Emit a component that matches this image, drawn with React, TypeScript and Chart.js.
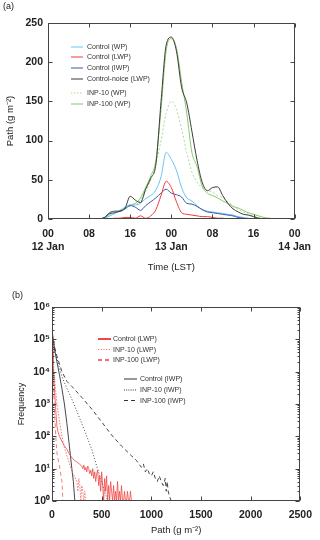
import React, { useEffect, useRef } from "react";
import { Chart, registerables } from "chart.js";
Chart.register(...registerables);
Chart.defaults.font.family = "'Liberation Sans', Arial, sans-serif";

// ---------- Panel (a) data ----------
const hours = [10, 11, 12, 13, 14, 15, 16, 17, 18, 19, 20, 21, 22, 23, 24, 25, 26, 27, 28, 29, 30, 31, 32, 33, 34, 35, 36, 37, 38, 39, 40, 41, 42, 43, 44];
const controlWP = [0, 1, 4, 7, 11, 15, 18, 18, 20, 26, 30, 37, 54, 85, 76, 62, 40, 27, 23, 17, 12, 10, 9, 8, 7, 6, 5, 3, 2, 1, 0, 0, 0, 0, 0];
const controlLWP = [0, 0, 0, 1, 1, 2, 2, 1, 4, 1, 4, 12, 30, 48, 40, 22, 8, 6, 5, 4, 3, 3, 2, 1, 1, 0, 0, 0, 0, 0, 0, 0, 0, 0, 0];
const controlIWP = [0, 2, 7, 8, 10, 13, 17, 15, 11, 17, 22, 27, 33, 38, 33, 31, 28, 20, 19, 16, 12, 9, 8, 7, 6, 5, 4, 2, 1, 0, 0, 0, 0, 0, 0];
const noiceLWP = [0, 2, 8, 10, 10, 14, 29, 24, 21, 38, 52, 70, 150, 222, 232, 214, 168, 148, 112, 75, 47, 36, 40, 41, 30, 20, 13, 9, 6, 5, 3, 1, 0, 0, 0];
const inp10WP = [0, 1, 6, 8, 10, 14, 17, 18, 24, 35, 50, 70, 100, 135, 150, 140, 115, 85, 60, 47, 40, 37, 34, 30, 27, 22, 17, 12, 9, 6, 4, 2, 1, 0, 0];
const inp100WP = [0, 1, 6, 8, 10, 14, 18, 20, 27, 40, 55, 75, 140, 215, 230, 218, 175, 135, 85, 67, 42, 33, 30, 27, 23, 20, 16, 14, 11, 8, 6, 4, 2, 1, 0];
const timeTicks = [0, 8, 16, 24, 32, 40, 48];
const timeTickLabels: (string | string[])[] = [["00", "12 Jan"], "08", "16", ["00", "13 Jan"], "08", "16", ["00", "14 Jan"]];
const pathTicks = [0, 50, 100, 150, 200, 250];
const legendLabelsA = ["Control (WP)", "Control (LWP)", "Control (IWP)", "Control-noice (LWP)", "INP-10 (WP)", "INP-100 (WP)"];

// ---------- Panel (b) data ----------
const lwpControlX = [0, 10, 20, 30, 40, 50, 60, 75, 100, 125, 150, 175, 200, 225, 250, 275, 300,
  310, 320, 330, 340, 350, 360, 370, 380, 390, 400, 410, 420, 430, 440, 450, 460, 470, 480, 490, 500,
  510, 520, 530, 540, 550, 560, 570, 580, 590, 600, 610, 620, 630, 640, 650, 660, 670, 680, 690, 700,
  710, 720, 730, 740, 750, 760, 770, 780, 790, 800];
const lwpControlF = [1e5, 2e4, 5e3, 1.6e3, 500, 200, 140, 100, 70, 50, 40, 28, 22, 18, 16, 14, 12,
  10, 13, 9, 11, 8, 12, 10, 7, 9, 6, 10, 5, 8, 4, 7, 9, 3, 6, 2, 8,
  3, 1, 5, 2, 6, 1, 3, 1, 4, 2, 1, 3, 1, 2, 1, 4, 1, 2, 1, 3,
  1, 1, 2, 1, 1, 2, 1, 1, 2, 1];
const lwpInp10X = [0, 10, 20, 35, 50, 75, 100, 125, 150, 175, 200, 225, 250, 260, 270, 280, 290, 300, 310, 320, 330, 340];
const lwpInp10F = [1e5, 3e4, 1e4, 3e3, 1e3, 300, 100, 45, 25, 15, 8, 6, 4, 2, 5, 3, 1, 3, 2, 1, 2, 1];
const lwpInp100X = [0, 10, 20, 30, 40, 50, 60, 70, 80, 90, 100, 105, 110];
const lwpInp100F = [1e5, 1e4, 1.5e3, 300, 80, 30, 20, 15, 10, 6, 4, 2, 1];
const iwpControlX = [0, 25, 50, 75, 100, 125, 150, 175, 200, 215, 230];
const iwpControlF = [2e5, 5e4, 2e4, 8e3, 3e3, 1e3, 250, 50, 10, 4, 1];
const iwpInp10X = [0, 25, 50, 100, 150, 200, 250, 300, 350, 400, 450, 500, 530, 560];
const iwpInp10F = [1.5e5, 5e4, 2.5e4, 7e3, 3e3, 1.4e3, 600, 250, 100, 40, 12, 4, 2, 1];
const iwpInp100X = [0, 25, 50, 100, 150, 200, 300, 400, 500, 600, 700, 800, 850, 900, 920, 940, 960, 980, 1000, 1020, 1040, 1060, 1080, 1100, 1120, 1140, 1150, 1160, 1170, 1180, 1200];
const iwpInp100F = [1.5e5, 6e4, 3e4, 1e4, 5e3, 3.5e3, 1.6e3, 700, 280, 110, 50, 25, 18, 11, 14, 8, 10, 7, 6, 8, 5, 4, 6, 4, 3, 5, 2, 4, 2, 1.5, 1];
const pathXTicks = [0, 500, 1000, 1500, 2000, 2500];
const freqTicks = [1, 10, 100, 1000, 10000, 100000, 1000000];
const legendLabelsB = ["Control (LWP)", "INP-10 (LWP)", "INP-100 (LWP)", "Control (IWP)", "INP-10 (IWP)", "INP-100 (IWP)"];

const SUP = ["⁰", "¹", "²", "³", "⁴", "⁵", "⁶"];

const C = {
  lightBlue: "#62c6f2",
  red: "#ee3b3b",
  darkBlue: "#3d56a6",
  black: "#3a3a3a",
  greenDot: "#a9dc8f",
  green: "#86c96a",
  redB: "#f04848",
  redBDot: "#f06a6a",
  redBDash: "#f27070",
  blackB: "#333333",
};

const FONT = "'Liberation Sans', Arial, sans-serif";

const framePlugin = {
  id: "frame",
  afterDatasetsDraw(chart: any, _args: any, opts: any) {
    const { ctx, chartArea: ca } = chart;
    const xs = chart.scales.x;
    const ys = chart.scales.y;
    ctx.save();
    ctx.strokeStyle = "#444";
    ctx.lineWidth = 1;
    ctx.setLineDash([]);
    const l = Math.round(ca.left) + 0.5, r = Math.round(ca.right) - 0.5;
    const t = Math.round(ca.top) + 0.5, b = Math.round(ca.bottom) - 0.5;
    ctx.strokeRect(l, t, r - l, b - t);
    ctx.beginPath();
    const L = 4;
    for (const tk of xs.ticks) {
      const px = Math.round(xs.getPixelForValue(tk.value)) + 0.5;
      ctx.moveTo(px, b); ctx.lineTo(px, b - L);
      ctx.moveTo(px, t); ctx.lineTo(px, t + L);
    }
    for (const tk of ys.ticks) {
      const py = Math.round(ys.getPixelForValue(tk.value)) + 0.5;
      ctx.moveTo(l, py); ctx.lineTo(l + L, py);
      ctx.moveTo(r, py); ctx.lineTo(r - L, py);
    }
    if (opts.minorY) {
      for (let d = 0; d < 6; d++) {
        for (let k = 2; k <= 9; k++) {
          const py = Math.round(ys.getPixelForValue(k * Math.pow(10, d))) + 0.5;
          ctx.moveTo(l, py); ctx.lineTo(l + 2, py);
          ctx.moveTo(r, py); ctx.lineTo(r - 2, py);
        }
      }
    }
    ctx.stroke();
    // legend
    const items = opts.legend || [];
    ctx.font = `7px ${FONT}`;
    ctx.textBaseline = "middle";
    ctx.textAlign = "left";
    for (const it of items) {
      ctx.beginPath();
      ctx.strokeStyle = it.color;
      ctx.lineWidth = it.width || 1;
      ctx.setLineDash(it.dash || []);
      ctx.moveTo(it.x1, it.y);
      ctx.lineTo(it.x2, it.y);
      ctx.stroke();
      ctx.setLineDash([]);
      ctx.fillStyle = "#333";
      ctx.fillText(it.label, it.tx, it.y + 0.5);
    }
    ctx.restore();
  },
};

function pts(xs: number[], ys: number[]) {
  return xs.map((x, i) => ({ x, y: ys[i] }));
}

function makeConfigA(): any {
  const series = [
    { data: controlWP, color: C.lightBlue, dash: [], order: 3 },
    { data: controlLWP, color: C.red, dash: [], order: 1 },
    { data: controlIWP, color: C.darkBlue, dash: [], order: 2 },
    { data: noiceLWP, color: C.black, dash: [], order: 0 },
    { data: inp10WP, color: C.greenDot, dash: [2, 2], order: 5 },
    { data: inp100WP, color: C.green, dash: [], order: 4 },
  ];
  const rows = [47, 57, 68, 79, 93, 104];
  return {
    type: "line",
    data: {
      datasets: series.map((s, i) => ({
        label: legendLabelsA[i],
        data: pts(hours, s.data),
        borderColor: s.color,
        borderDash: s.dash,
        borderWidth: 1,
        pointRadius: 0,
        fill: false,
        order: s.order,
        cubicInterpolationMode: "monotone",
      })),
    },
    options: {
      animation: false,
      responsive: true,
      maintainAspectRatio: false,
      layout: { padding: { top: 23, right: 21, left: 0, bottom: 0 } },
      plugins: {
        legend: { display: false },
        tooltip: { enabled: false },
        frame: {
          legend: series.map((s, i) => ({
            label: legendLabelsA[i], color: s.color, dash: s.dash.length ? [1.5, 1.5] : [],
            x1: 71, x2: 83, tx: 87, y: rows[i], width: 1,
          })),
        },
      },
      scales: {
        x: {
          type: "linear", min: 0, max: 48,
          afterBuildTicks: (s: any) => { s.ticks = timeTicks.map((v) => ({ value: v })); },
          afterFit: (s: any) => { s.height = 59; },
          grid: { display: false, drawTicks: false },
          border: { display: false },
          ticks: {
            padding: 9, color: "#222", maxRotation: 0, autoSkip: false,
            font: { size: 10.5, weight: "bold" },
            callback: (v: number) => timeTickLabels[timeTicks.indexOf(v)],
          },
          title: { display: true, text: "Time (LST)", color: "#222", font: { size: 9.5 }, padding: { top: 0, bottom: 5 } },
        },
        y: {
          type: "linear", min: 0, max: 250,
          afterBuildTicks: (s: any) => { s.ticks = pathTicks.map((v) => ({ value: v })); },
          afterFit: (s: any) => { s.width = 48; },
          grid: { display: false, drawTicks: false },
          border: { display: false },
          ticks: { padding: 5, color: "#222", font: { size: 10.5, weight: "bold" }, callback: (v: number) => String(v) },
          title: { display: true, text: "Path (g m⁻²)", color: "#222", font: { size: 9.5 }, padding: { top: 5, bottom: 0 } },
        },
      },
    },
    plugins: [framePlugin],
  };
}

function makeConfigB(): any {
  const series = [
    { x: lwpControlX, f: lwpControlF, color: C.redB, dash: [], ldash: [], lw: 2, bw: 0.8 },
    { x: lwpInp10X, f: lwpInp10F, color: C.redBDot, dash: [1.5, 1.5], ldash: [1.2, 1.5], lw: 1, bw: 0.9 },
    { x: lwpInp100X, f: lwpInp100F, color: C.redBDash, dash: [4, 3], ldash: [4, 3], lw: 2, bw: 0.9 },
    { x: iwpControlX, f: iwpControlF, color: C.blackB, dash: [], ldash: [], lw: 1, bw: 0.9 },
    { x: iwpInp10X, f: iwpInp10F, color: C.blackB, dash: [1, 2], ldash: [1, 1.2], lw: 1, bw: 0.9 },
    { x: iwpInp100X, f: iwpInp100F, color: C.blackB, dash: [4, 3], ldash: [4, 3], lw: 1, bw: 0.9 },
  ];
  const legendPos = [
    { x1: 98, x2: 111, tx: 113, y: 61 },
    { x1: 98, x2: 111, tx: 113, y: 71.5 },
    { x1: 98, x2: 111, tx: 113, y: 82 },
    { x1: 124, x2: 137, tx: 140, y: 101 },
    { x1: 124, x2: 137, tx: 140, y: 112 },
    { x1: 124, x2: 137, tx: 140, y: 122.5 },
  ];
  return {
    type: "line",
    data: {
      datasets: series.map((s, i) => ({
        label: legendLabelsB[i],
        data: pts(s.x, s.f),
        borderColor: s.color,
        borderDash: s.dash,
        borderWidth: s.bw,
        pointRadius: 0,
        fill: false,
        tension: 0,
      })),
    },
    options: {
      animation: false,
      responsive: true,
      maintainAspectRatio: false,
      layout: { padding: { top: 29, right: 17, left: 0, bottom: 0 } },
      plugins: {
        legend: { display: false },
        tooltip: { enabled: false },
        frame: {
          minorY: true,
          legend: series.map((s, i) => ({
            label: legendLabelsB[i], color: s.color, dash: s.ldash, width: s.lw, ...legendPos[i],
          })),
        },
      },
      scales: {
        x: {
          type: "linear", min: 0, max: 2500,
          afterBuildTicks: (s: any) => { s.ticks = pathXTicks.map((v) => ({ value: v })); },
          afterFit: (s: any) => { s.height = 39; },
          grid: { display: false, drawTicks: false },
          border: { display: false },
          ticks: {
            padding: 8, color: "#222", maxRotation: 0, autoSkip: false, font: { size: 10.5, weight: "bold" },
            callback: (v: number) => String(v),
          },
          title: { display: true, text: "Path (g m⁻²)", color: "#222", font: { size: 9.5 }, padding: { top: 0, bottom: 4 } },
        },
        y: {
          type: "logarithmic", min: 1, max: 1e6,
          afterBuildTicks: (s: any) => { s.ticks = freqTicks.map((v) => ({ value: v })); },
          afterFit: (s: any) => { s.width = 52; },
          grid: { display: false, drawTicks: false },
          border: { display: false },
          ticks: {
            padding: 2, color: "#222", autoSkip: false, font: { size: 10.5, weight: "bold" },
            callback: (v: number) => "10" + SUP[Math.round(Math.log10(v))],
          },
          title: { display: true, text: "Frequency", color: "#222", font: { size: 9 }, padding: { top: 16, bottom: 0 } },
        },
      },
    },
    plugins: [framePlugin],
  };
}

export default function App() {
  const refA = useRef<HTMLCanvasElement>(null);
  const refB = useRef<HTMLCanvasElement>(null);
  useEffect(() => {
    const a = new Chart(refA.current as HTMLCanvasElement, makeConfigA());
    const b = new Chart(refB.current as HTMLCanvasElement, makeConfigB());
    return () => { a.destroy(); b.destroy(); };
  }, []);
  return (
    <div style={{ position: "absolute", left: 0, top: 0, width: 320, height: 540, background: "#fff", fontFamily: FONT, color: "#222" }}>
      <div style={{ position: "absolute", left: 0, top: 0, width: 320, height: 278 }}>
        <canvas ref={refA} />
      </div>
      <div style={{ position: "absolute", left: 0, top: 278, width: 320, height: 262 }}>
        <canvas ref={refB} />
      </div>
      <div style={{ position: "absolute", left: 3, top: 1, fontSize: 9, lineHeight: "10px" }}>(a)</div>
      <div style={{ position: "absolute", left: 12, top: 290, fontSize: 9, lineHeight: "10px" }}>(b)</div>
    </div>
  );
}
